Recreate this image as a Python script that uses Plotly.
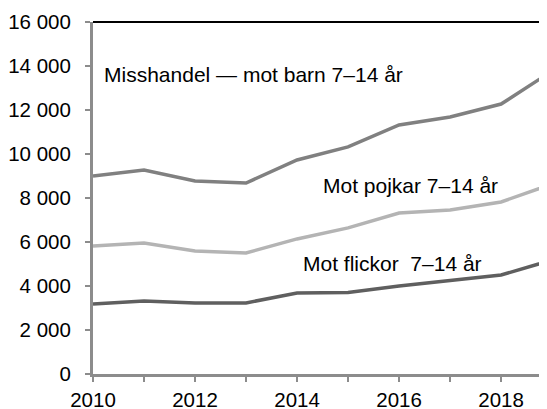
import plotly.graph_objects as go

years = [2010, 2011, 2012, 2013, 2014, 2015, 2016, 2017, 2018, 2019]
misshandel = [9000, 9270, 8770, 8680, 9730, 10320, 11320, 11680, 12270, 13770]
pojkar = [5820, 5950, 5590, 5500, 6140, 6640, 7320, 7450, 7820, 8640]
flickor = [3180, 3320, 3230, 3230, 3680, 3700, 4000, 4270, 4500, 5180]

y_ticks = [0, 2000, 4000, 6000, 8000, 10000, 12000, 14000, 16000]
y_labels = ["0", "2 000", "4 000", "6 000", "8 000", "10 000", "12 000", "14 000", "16 000"]
x_ticks = [2010, 2012, 2014, 2016, 2018]

series = [
    ("Misshandel", misshandel, "#808080"),
    ("Pojkar", pojkar, "#b4b4b4"),
    ("Flickor", flickor, "#5f5f5f"),
]

fig = go.Figure()
for name, vals, col in series:
    fig.add_trace(go.Scatter(x=years, y=vals, mode="lines", name=name,
                             line=dict(color=col, width=3.5), showlegend=False))

tick_font = dict(family="Liberation Sans, Arial, sans-serif", size=20.5, color="#000000")
ann_font = dict(family="Liberation Sans, Arial, sans-serif", size=21, color="#000000")

fig.add_annotation(x=2010.17, y=13614, text="Misshandel — mot barn 7–14 år", showarrow=False,
                   xanchor="left", yanchor="middle", font=ann_font)
fig.add_annotation(x=2014.46, y=8568, text="Mot pojkar 7–14 år", showarrow=False,
                   xanchor="left", yanchor="middle", font=ann_font)
fig.add_annotation(x=2014.07, y=5045, text="Mot flickor&nbsp; 7–14 år", showarrow=False,
                   xanchor="left", yanchor="middle", font=ann_font)

fig.add_shape(type="line", xref="paper", yref="paper", x0=0, x1=1, y0=1, y1=1,
              line=dict(color="#000000", width=2))

# page body has an 8px default margin: figure is sized so it fills the 547x409 window
fig.update_layout(
    width=539, height=401,
    margin=dict(l=85, r=0, t=14, b=35),
    plot_bgcolor="white", paper_bgcolor="white",
    font=tick_font,
    xaxis=dict(range=[2010, 2018.9], tickvals=x_ticks, ticktext=[str(t) for t in x_ticks],
               showgrid=False, zeroline=False, showline=True, linecolor="#8c8c8c", linewidth=3,
               ticks="outside", ticklen=5, tickcolor="#8c8c8c", tickwidth=1.5,
               minor=dict(dtick=1, ticks="outside", ticklen=5, tickcolor="#8c8c8c", tickwidth=1.5),
               tickfont=tick_font, automargin=False),
    yaxis=dict(range=[0, 16000], tickvals=y_ticks, ticktext=y_labels,
               showgrid=False, zeroline=False, showline=True, linecolor="#8c8c8c", linewidth=3,
               ticks="outside", ticklen=5, tickcolor="#8c8c8c", tickwidth=1.5,
               ticklabelstandoff=10, tickfont=tick_font, automargin=False),
)

fig.write_html("out.html")
